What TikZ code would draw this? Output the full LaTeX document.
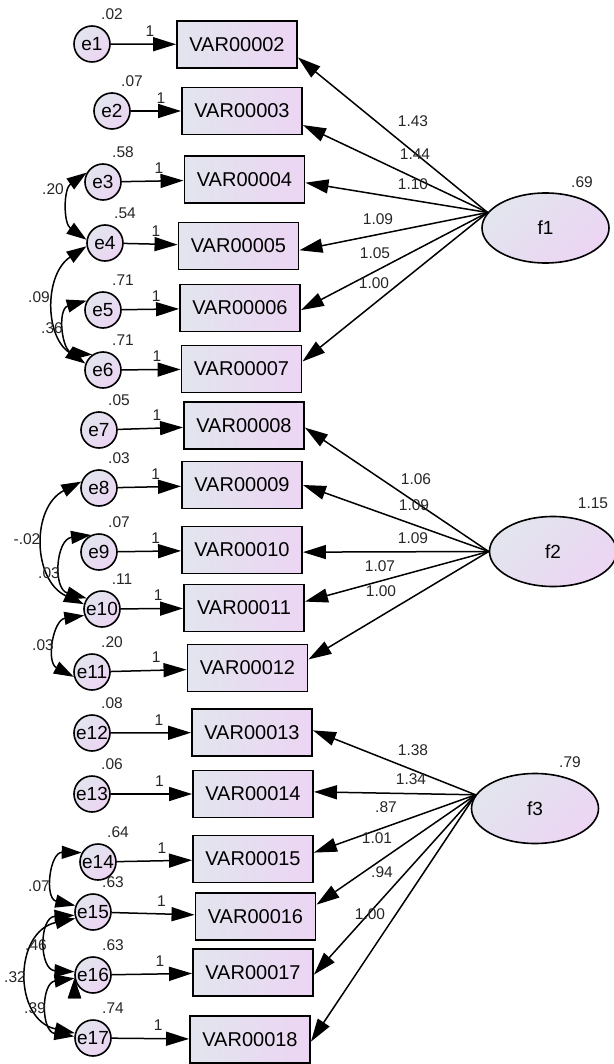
\documentclass[tikz,border=0pt]{standalone}
\usepackage{fontspec}
\setmainfont{Liberation Sans}
\usetikzlibrary{arrows.meta,shapes.geometric}
\definecolor{shadeA}{RGB}{226,229,238}
\definecolor{shadeB}{RGB}{236,213,243}

\begin{document}
\begin{tikzpicture}[x=1pt,y=1pt,
    obs/.style={draw,line width=1.9pt,left color=shadeA,right color=shadeB,
      minimum width=120pt,minimum height=47pt,inner sep=0pt,
      font=\fontsize{20}{24}\selectfont},
    err/.style={circle,draw,line width=1.6pt,left color=shadeA,right color=shadeB,
      shading angle=45,minimum size=36pt,inner sep=0pt,
      font=\fontsize{19}{22}\selectfont},
    lat/.style={ellipse,draw,line width=1.6pt,left color=shadeA,right color=shadeB,
      shading angle=45,minimum width=127pt,minimum height=70pt,inner sep=0pt,
      font=\fontsize{19}{22}\selectfont},
    num/.style={inner sep=0pt,text=black!85,font=\fontsize{15.5}{18}\selectfont},
    one/.style={num,pos=0.6,above=7pt},
    link/.style={line width=1.5pt,-{Triangle[length=23pt,width=14pt]}},
    covar/.style={line width=1.5pt,
      {Triangle[length=20pt,width=13pt]}-{Triangle[length=20pt,width=13pt]}}]
  \useasboundingbox (0,0) rectangle (613,-1064);

  % latent factors
  \node[lat] (f1) at (545.5,-228) {f1};
  \node[lat] (f2) at (553,-551.5) {f2};
  \node[lat] (f3) at (535,-808.5) {f3};
  \node[num] (s18) at (582,-182) {.69};
  \node[num] (s19) at (593,-503) {1.15};
  \node[num] (s20) at (570,-762) {.79};

  % errors and observed variables
  \foreach \n/\ex/\ey/\bx/\by/\v in {
      1/92/44/237/44.5/.02, 2/112/111/242/111/.07, 3/103/182/244.5/179.5/.58,
      4/105/243/238.5/246/.54, 5/103/310/240/308/.71, 6/103/370/241.5/369/.71,
      7/99/430/244/425.5/.05, 8/99/488/242/485/.03, 9/99/552/242/550/.07,
      10/102/609/244/608/.11, 11/92/672/247.5/668/.20, 12/92/733/252/732.5/.08,
      13/92/794/253/794/.06, 14/98/862/253/859/.64, 15/93/912/255.5/916.5/.63,
      16/93/975/253/972.5/.63, 17/93/1038/250/1039.5/.74}
  {
    \pgfmathtruncatemacro\k{\n+1}
    \node[err] (e\n) at (\ex,-\ey) {e\n};
    \node[obs] (b\n) at (\bx,-\by) {VAR000\ifnum\k<10 0\fi\k};
    \node[num] (s\n) at ([shift={(20,30)}]e\n.center) {\v};
    \draw[link] (e\n) -- node[one] (o\n) {1} (b\n);
  }

  % loadings
  \coordinate (p1) at (f1.165);
  \coordinate (p2) at (f2.west);
  \coordinate (p3) at (f3.167);
  \foreach \n/\a in {1/-12,2/-13,3/-3,4/-4,5/-2,6/7}
    \draw[link] (p1) -- (b\n.\a);
  \foreach \n/\a in {7/-2,8/0,9/-2,10/6,11/8}
    \draw[link] (p2) -- (b\n.\a);
  \foreach \n/\a in {12/2,13/2,14/6,15/11,16/-2,17/-2}
    \draw[link] (p3) -- (b\n.\a);
  \foreach \t/\x/\y [count=\i] in {
      1.43/413/121, 1.44/415/154, 1.10/413/184, 1.09/378/219, 1.05/375/253,
      1.00/374/283, 1.06/416/479, 1.09/414/505, 1.09/413/538, 1.07/380/566,
      1.00/381/591, 1.38/413/750, 1.34/411/779, .87/386/807, 1.01/377/838,
      .94/382/872, 1.00/370/914}
    \node[num] (w\i) at (\x,-\y) {\t};

  % covariances
  \draw[covar]
    (e3.150) edge[bend right=55,looseness=1.08] (e4.170)
    (e4.190) edge[bend right=56,looseness=1.09] (e6.160)
    (e5.150) edge[bend right=80,looseness=1.45] (e6.125)
    (e8.160) edge[bend right=64,looseness=1.18] (e10.165)
    (e9.115) edge[bend right=79,looseness=1.43] (e10.145)
    (e10.200) edge[bend right=72,looseness=1.3] (e11.195)
    (e14.150) edge[bend right=84,looseness=1.54] (e15.160)
    (e15.190) edge[bend right=87,looseness=1.62] (e16.170)
    (e15.200) edge[bend right=78,looseness=1.41] (e17.165)
    (e16.190) edge[bend right=82,looseness=1.49] (e17.175);
  \foreach \t/\x/\y [count=\i] in {
      .20/53/189, .09/39/297, .36/52/328, -.02/27/539, .03/49/573,
      .03/43/645, .07/39/886, .46/36/945, .32/15/977, .39/35/1008}
    \node[num] (c\i) at (\x,-\y) {\t};
\end{tikzpicture}
\end{document}
